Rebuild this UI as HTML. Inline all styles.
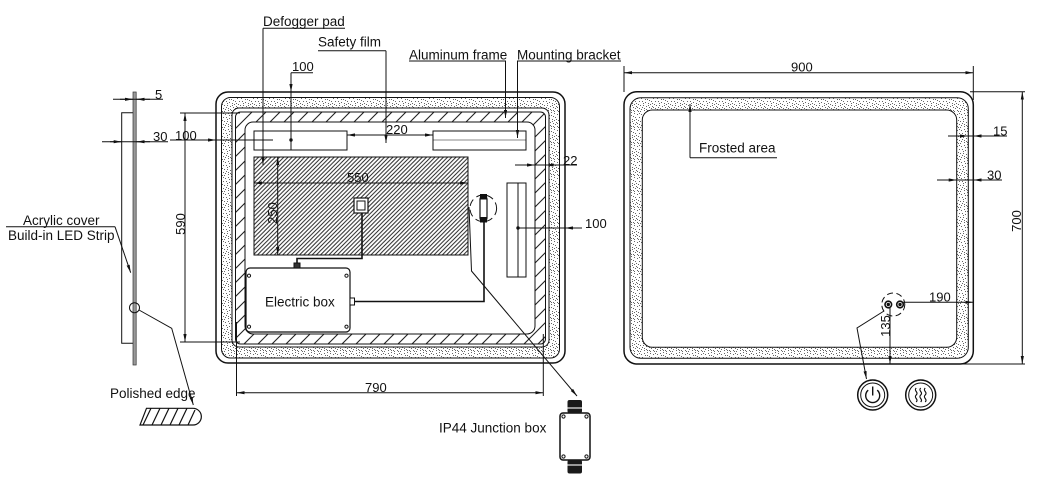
<!DOCTYPE html>
<html><head><meta charset="utf-8">
<style>
html,body{margin:0;padding:0;background:#fff;}
svg{display:block;}
text{font-family:"Liberation Sans",Arial,sans-serif;fill:#111;}
.l{font-size:13.5px;}
.d{font-size:13px;}
</style></head><body>
<svg width="1042" height="487" viewBox="0 0 1042 487" xmlns="http://www.w3.org/2000/svg">
<defs>
<pattern id="fr" width="16" height="16" patternUnits="userSpaceOnUse">
<rect width="16" height="16" fill="#fff"/>
<path fill="#666" d="M1 2h1v1h-1zM4 1h1v1h-1zM7 3h1v1h-1zM10 1h1v1h-1zM13 2h1v1h-1zM15 5h1v1h-1zM2 5h1v1h-1zM5 6h1v1h-1zM8 7h1v1h-1zM11 5h1v1h-1zM14 8h1v1h-1zM0 9h1v1h-1zM3 9h1v1h-1zM6 10h1v1h-1zM9 11h1v1h-1zM12 10h1v1h-1zM15 12h1v1h-1zM1 13h1v1h-1zM4 14h1v1h-1zM7 14h1v1h-1zM10 15h1v1h-1zM13 14h1v1h-1zM2 11h1v1h-1zM5 3h1v1h-1zM9 4h1v1h-1zM12 7h1v1h-1zM6 13h1v1h-1zM11 12h1v1h-1zM14 15h1v1h-1zM3 7h1v1h-1zM8 9h1v1h-1zM0 15h1v1h-1zM13 11h1v1h-1zM10 8h1v1h-1zM7 0h1v1h-1zM15 1h1v1h-1zM4 12h1v1h-1zM9 14h1v1h-1z"/>
</pattern>
<pattern id="hd" width="4.2" height="4.2" patternUnits="userSpaceOnUse">
<rect width="4.2" height="4.2" fill="#fff"/>
<path d="M-1,1 L1,-1 M0,4.2 L4.2,0 M3.2,5.2 L5.2,3.2" stroke="#222" stroke-width="0.95"/>
</pattern>
<pattern id="hf" width="14" height="14" patternUnits="userSpaceOnUse">
<rect width="14" height="14" fill="#fff"/>
<path d="M-1,1 L1,-1 M0,14 L14,0 M13,15 L15,13" stroke="#222" stroke-width="1.1"/>
</pattern>
<marker id="a" markerWidth="10" markerHeight="4" refX="8" refY="1.6" orient="auto-start-reverse" markerUnits="userSpaceOnUse"><path d="M0,0 L8,1.6 L0,3.2z" fill="#111"/></marker>
</defs>
<rect width="1042" height="487" fill="#fff"/>

<!-- ============ SIDE PROFILE ============ -->
<g fill="none" stroke="#111" stroke-width="1">
<path d="M133,112.7 H121.7 V343.3 H133"/>
<rect x="133" y="92" width="3.2" height="273" fill="#999" stroke="#333" stroke-width="0.7"/>
<line x1="113" y1="99.3" x2="163" y2="99.3"/>
<line x1="120" y1="99.3" x2="133" y2="99.3" marker-end="url(#a)"/>
<line x1="150" y1="99.3" x2="136.5" y2="99.3" marker-end="url(#a)"/>
<line x1="102" y1="141.7" x2="168" y2="141.7"/>
<line x1="110" y1="141.7" x2="121.7" y2="141.7" marker-end="url(#a)"/>
<line x1="150" y1="141.7" x2="136.5" y2="141.7" marker-end="url(#a)"/>
<line x1="6" y1="226.7" x2="115" y2="226.7"/>
<line x1="115" y1="226.7" x2="130.7" y2="272.7" marker-end="url(#a)"/>
<circle cx="134.5" cy="307.7" r="5"/>
<path d="M139,310 L171.7,328.3 L193.3,405" marker-end="url(#a)"/>
<path d="M146.5,408.3 H193 A8.3,8.3 0 0 1 193,425 H140 Z" stroke-width="1.2"/>
<path d="M143,425 L151,408.3 M152,425 L160,408.3 M161,425 L169,408.3 M170,425 L178,408.3 M179,425 L187,408.3 M188,425 L195,410" stroke-width="1.2"/>
</g>
<text class="d" x="155" y="99">5</text>
<text class="d" x="153" y="141">30</text>
<text class="l" x="23" y="225">Acrylic cover</text>
<text class="l" x="8" y="240">Build-in LED Strip</text>
<text class="l" x="110" y="398">Polished edge</text>

<!-- ============ MIDDLE DRAWING ============ -->
<g fill="none" stroke="#111" stroke-width="1">
<rect x="216" y="92" width="349" height="271" rx="12" fill="#fff" stroke-width="1.5"/>
<rect x="221.5" y="97.5" width="338" height="260.5" rx="9" fill="url(#fr)"/>
<rect x="232" y="108" width="317" height="239" rx="7" fill="#fff"/>
<rect x="235.5" y="112" width="310" height="232" rx="5" fill="url(#hf)"/>
<rect x="245" y="122" width="290" height="212" rx="8" fill="#fff"/>

<rect x="254" y="131" width="93" height="19" fill="#fff"/>
<rect x="433" y="131" width="93" height="19" fill="#fff"/>
<line x1="433" y1="140" x2="526" y2="140" stroke-width="0.6"/>
<rect x="507" y="183" width="19" height="94" fill="#fff"/>
<line x1="518" y1="183" x2="518" y2="277"/>

<rect x="254" y="157" width="214" height="98" fill="url(#hd)"/>

<rect x="246" y="268" width="104" height="64" rx="4" fill="#fff" stroke-width="1.2"/>
<circle cx="249" cy="275.7" r="1.6"/><circle cx="346.5" cy="275.7" r="1.6"/>
<circle cx="249" cy="326.7" r="1.6"/><circle cx="346.5" cy="326.7" r="1.6"/>
<path d="M297,264 V258.5 H362 V213" stroke-width="1.6"/>
<rect x="294" y="263" width="6" height="5" fill="#333"/>
<rect x="354" y="198" width="14" height="15" fill="#fff" stroke-width="1.2"/>
<rect x="357" y="201" width="8" height="9"/>
<rect x="350" y="298" width="4.5" height="7" fill="#fff"/>
<path d="M354.5,301.5 H484 V221" stroke-width="1.6"/>
<rect x="480" y="196" width="7" height="25" rx="3" fill="#fff" stroke-width="1.2"/>
<rect x="480.5" y="194.5" width="6" height="4.5" fill="#111"/>
<rect x="480.5" y="217.5" width="6" height="4.5" fill="#111"/>
<circle cx="483.3" cy="208.3" r="13.3" stroke-dasharray="7,4"/>
<path d="M469,207 L471.5,271 L577,396" marker-end="url(#a)"/>

<rect x="560" y="413" width="30" height="47" rx="3" fill="#fff" stroke-width="1.5"/>
<circle cx="563.5" cy="416.5" r="1.6"/><circle cx="586.5" cy="416.5" r="1.6"/>
<circle cx="563.5" cy="456.5" r="1.6"/><circle cx="586.5" cy="456.5" r="1.6"/>
</g>
<rect x="567.5" y="400" width="14.5" height="13" rx="2" fill="#1a1a1a"/>
<rect x="567.5" y="407" width="14.5" height="2" fill="#999"/>
<rect x="567.5" y="460" width="14.5" height="13.5" rx="2" fill="#1a1a1a"/>
<rect x="567.5" y="464" width="14.5" height="2" fill="#999"/>

<g fill="none" stroke="#111" stroke-width="1">
<line x1="180" y1="113" x2="240" y2="113"/>
<line x1="180" y1="342" x2="240" y2="342"/>
<line x1="185" y1="113" x2="185" y2="342" marker-start="url(#a)" marker-end="url(#a)"/>
<line x1="170" y1="140" x2="273" y2="140"/>
<line x1="200" y1="140" x2="216" y2="140" marker-end="url(#a)"/>
<line x1="291" y1="72.7" x2="313" y2="72.7"/>
<line x1="291" y1="72.7" x2="291" y2="150"/>
<line x1="291" y1="80" x2="291" y2="92" marker-end="url(#a)"/>
<circle cx="291" cy="140" r="1.2" fill="#111"/>
<line x1="347" y1="135" x2="433" y2="135" marker-start="url(#a)" marker-end="url(#a)"/>
<line x1="254" y1="183" x2="468" y2="183" marker-start="url(#a)" marker-end="url(#a)"/>
<line x1="277.7" y1="157" x2="277.7" y2="255" marker-start="url(#a)" marker-end="url(#a)"/>
<line x1="515" y1="165" x2="577" y2="165"/>
<line x1="520" y1="165" x2="535" y2="165" marker-end="url(#a)"/>
<line x1="560" y1="165" x2="545.5" y2="165" marker-end="url(#a)"/>
<line x1="518" y1="228" x2="582" y2="228"/>
<line x1="580" y1="228" x2="565" y2="228" marker-end="url(#a)"/>
<circle cx="518" cy="228" r="1.2" fill="#111"/>
<line x1="236.5" y1="322" x2="236.5" y2="396"/>
<line x1="543.3" y1="334" x2="543.3" y2="396"/>
<line x1="236.5" y1="392.7" x2="543.3" y2="392.7" marker-start="url(#a)" marker-end="url(#a)"/>
<line x1="263" y1="28.3" x2="345" y2="28.3"/>
<line x1="263" y1="28.3" x2="263" y2="165" marker-end="url(#a)"/>
<line x1="318" y1="50.7" x2="386" y2="50.7"/>
<line x1="386" y1="50.7" x2="386" y2="143" marker-end="url(#a)"/>
<line x1="409" y1="61" x2="506" y2="61"/>
<line x1="505.5" y1="61" x2="505.5" y2="118" marker-end="url(#a)"/>
<line x1="517" y1="61" x2="621" y2="61"/>
<line x1="517.5" y1="61" x2="517.5" y2="138" marker-end="url(#a)"/>
</g>
<text class="d" x="175" y="140">100</text>
<text class="d" transform="translate(185,224) rotate(-90)" text-anchor="middle">590</text>
<text class="d" x="292" y="71">100</text>
<text class="d" x="386" y="134">220</text>
<text class="d" x="347" y="182">550</text>
<text class="d" transform="translate(277,213) rotate(-90)" text-anchor="middle">250</text>
<text class="d" x="563" y="165">22</text>
<text class="d" x="585" y="228">100</text>
<text class="d" x="365" y="392">790</text>
<text class="l" x="263" y="26">Defogger pad</text>
<text class="l" x="318" y="46.5">Safety film</text>
<text class="l" x="409" y="59.5">Aluminum frame</text>
<text class="l" x="517" y="59.5">Mounting bracket</text>
<text class="l" x="265" y="306.5">Electric box</text>
<text class="l" x="439" y="432.5">IP44 Junction box</text>

<!-- ============ RIGHT DRAWING ============ -->
<g fill="none" stroke="#111" stroke-width="1">
<rect x="624" y="91.7" width="349.3" height="272.3" rx="13" fill="#fff" stroke-width="1.5"/>
<rect x="630" y="97.7" width="338.3" height="260.6" rx="11" fill="url(#fr)"/>
<rect x="642.3" y="110" width="314.4" height="237.3" rx="10" fill="#fff"/>
<line x1="624" y1="66" x2="624" y2="92"/>
<line x1="973.3" y1="66" x2="973.3" y2="100"/>
<line x1="624" y1="72.7" x2="973.3" y2="72.7" marker-start="url(#a)" marker-end="url(#a)"/>
<line x1="970" y1="91.7" x2="1025" y2="91.7"/>
<line x1="890" y1="364" x2="1025" y2="364"/>
<line x1="1022.3" y1="91.7" x2="1022.3" y2="364" marker-start="url(#a)" marker-end="url(#a)"/>
<line x1="690" y1="157.7" x2="777" y2="157.7"/>
<line x1="690" y1="157.7" x2="690" y2="104" marker-end="url(#a)"/>
<line x1="948" y1="136" x2="1007" y2="136"/>
<line x1="955" y1="136" x2="968" y2="136" marker-end="url(#a)"/>
<line x1="988" y1="136" x2="973.5" y2="136" marker-end="url(#a)"/>
<line x1="937" y1="180" x2="1002" y2="180"/>
<line x1="944" y1="180" x2="956.7" y2="180" marker-end="url(#a)"/>
<line x1="988" y1="180" x2="973.5" y2="180" marker-end="url(#a)"/>
<line x1="903" y1="302.3" x2="973.3" y2="302.3" marker-end="url(#a)"/>
<line x1="890" y1="306" x2="890" y2="364" marker-end="url(#a)"/>
<circle cx="893.3" cy="304.5" r="11.5" stroke-dasharray="6,3.5"/>
<circle cx="888.3" cy="304.5" r="3.3" stroke-width="1.6" fill="#fff"/>
<circle cx="888.3" cy="304.5" r="1.2" fill="#111"/>
<circle cx="900" cy="304.5" r="3.3" stroke-width="1.6" fill="#fff"/>
<circle cx="900" cy="304.5" r="1.2" fill="#111"/>
<path d="M884,311 L857,328 L866.5,379" marker-end="url(#a)"/>
<circle cx="872.7" cy="395" r="15" stroke-width="1.5"/>
<circle cx="872.7" cy="395" r="12" stroke-width="1"/>
<path d="M868.2,390.2 A7,7 0 1 0 877.2,390.2" stroke-width="1.4"/>
<line x1="872.7" y1="386.5" x2="872.7" y2="395.5" stroke-width="1.4"/>
<circle cx="920.7" cy="395" r="15" stroke-width="1.5"/>
<circle cx="920.7" cy="395" r="12" stroke-width="1"/>
<path d="M916.2,388 c-3,3 3,4 0,7 c-3,3 3,4 0,7 M920.7,388 c-3,3 3,4 0,7 c-3,3 3,4 0,7 M925.2,388 c-3,3 3,4 0,7 c-3,3 3,4 0,7" stroke-width="1.2"/>
</g>
<text class="d" x="791" y="71.5">900</text>
<text class="d" transform="translate(1021,221) rotate(-90)" text-anchor="middle">700</text>
<text class="l" x="699" y="152.5">Frosted area</text>
<text class="d" x="993" y="135.5">15</text>
<text class="d" x="987" y="179.5">30</text>
<text class="d" x="929" y="301.5">190</text>
<text class="d" transform="translate(890,326) rotate(-90)" text-anchor="middle">135</text>
</svg>
</body></html>
